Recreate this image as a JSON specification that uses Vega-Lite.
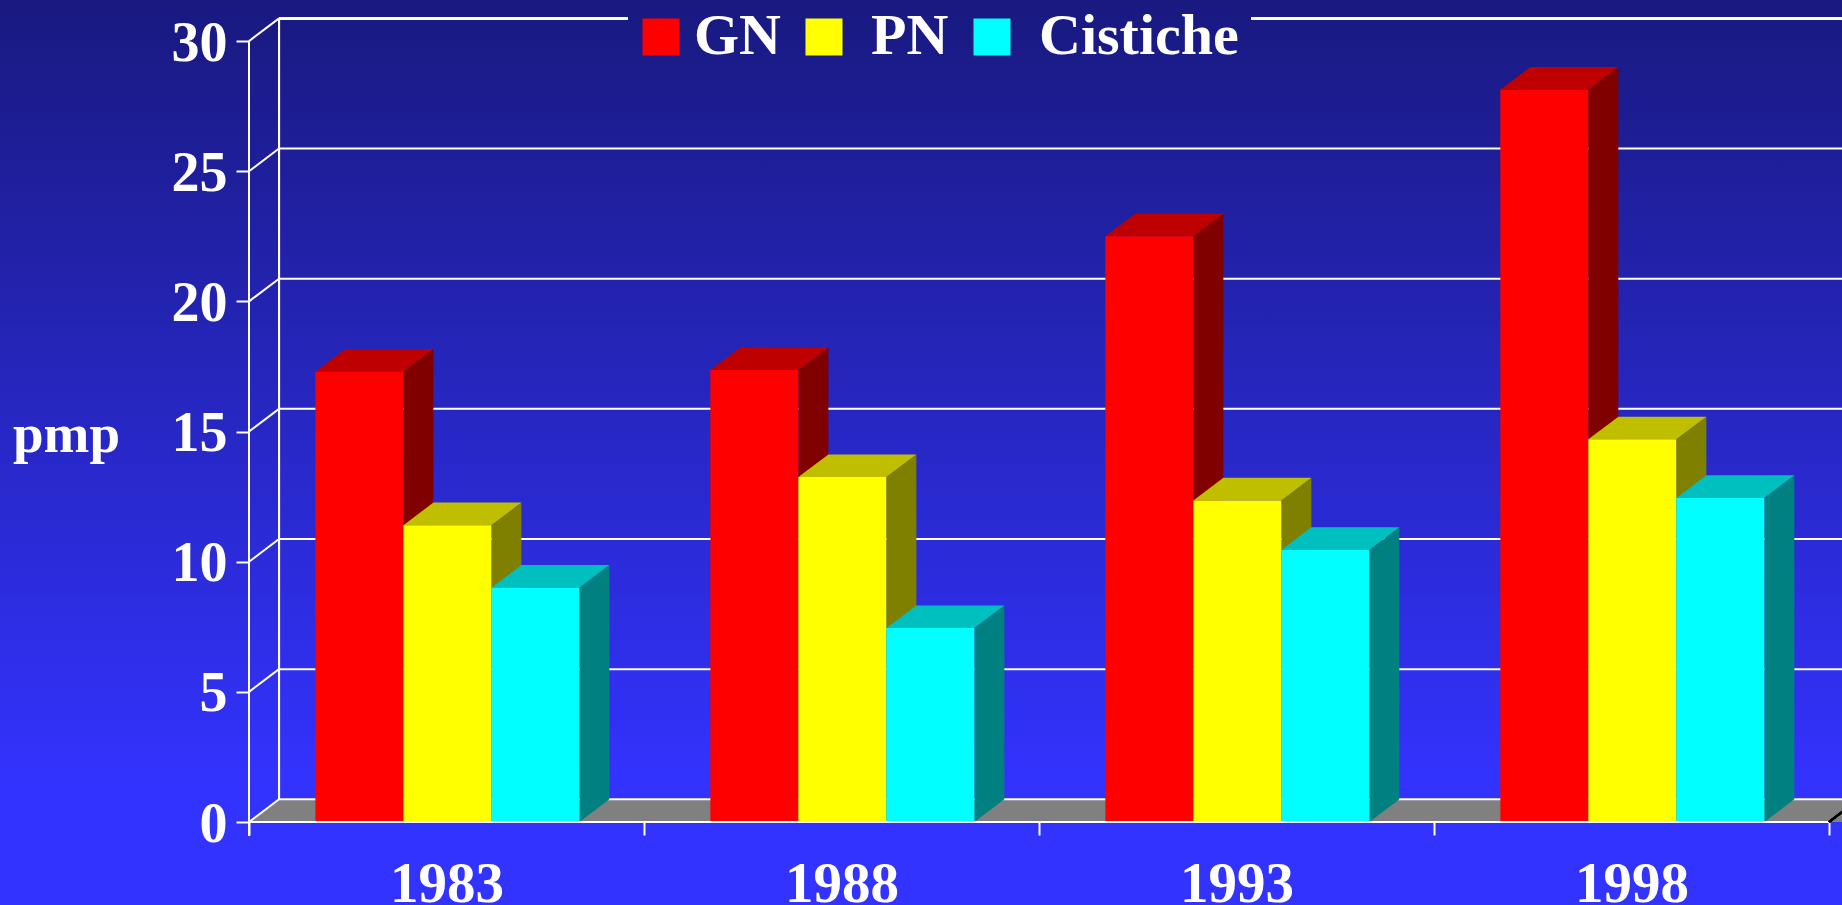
{
"$schema":"https://vega.github.io/schema/vega-lite/v6.json",
"width":1842,"height":905,"padding":0,"autosize":{"type":"none"},
"background":"#3333ff",
"config":{"view":{"stroke":null},"font":"Liberation Serif"},
"view":{"stroke":null,"fill":{"gradient":"linear","x1":0,"y1":0,"x2":0,"y2":1,"stops":[{"offset":0,"color":"#191980"},{"offset":0.87,"color":"#3333ff"},{"offset":1,"color":"#3333ff"}]}},
"datasets":{
"bars":[
{"year":1983,"series":"GN","value":17.3},{"year":1983,"series":"PN","value":11.4},{"year":1983,"series":"Cistiche","value":9.0},
{"year":1988,"series":"GN","value":17.36},{"year":1988,"series":"PN","value":13.25},{"year":1988,"series":"Cistiche","value":7.45},
{"year":1993,"series":"GN","value":22.5},{"year":1993,"series":"PN","value":12.35},{"year":1993,"series":"Cistiche","value":10.45},
{"year":1998,"series":"GN","value":28.13},{"year":1998,"series":"PN","value":14.7},{"year":1998,"series":"Cistiche","value":12.45}
],
"levels":[{"v":0},{"v":5},{"v":10},{"v":15},{"v":20},{"v":25},{"v":30}],
"floor":[{"fx":1980.5,"fy":0,"fy2":0},{"fx":1980.88,"fy":0.872,"fy2":0},{"fx":2000.665,"fy":0.872,"fy2":0}]
},
"data":{"name":"bars"},
"layer":[
{"data":{"name":"floor"},"mark":{"type":"area","color":"#808080"},
 "encoding":{
  "x":{"field":"fx","type":"quantitative","scale":{"domain":[1977.348,2000.665],"nice":false,"zero":false},
   "axis":{"orient":"bottom","offset":-83,"values":[1980.5,1983,1985.5,1988,1990.5,1993,1995.5,1998,2000.5],"title":null,"grid":false,"domain":false,"tickColor":"white","tickWidth":2,"tickSize":13,"tickOpacity":{"expr":"datum.value%1===0?0:1"},"labelExpr":"datum.value%1===0?format(datum.value,'d'):''","labelFont":"Liberation Serif","labelFontSize":57,"labelFontWeight":"bold","labelColor":"white","labelBaseline":"alphabetic","labelPadding":66,"labelOverlap":false,"labelFlush":false}},
  "y":{"field":"fy","type":"quantitative","scale":{"domain":[-3.1886,31.579],"nice":false,"zero":false},
   "axis":{"orient":"left","offset":-249,"values":[0,5,10,15,20,25,30],"grid":false,"domain":false,"tickColor":"white","tickWidth":2,"tickSize":13,"labelFont":"Liberation Serif","labelFontSize":56,"labelFontWeight":"bold","labelColor":"white","labelPadding":9,"labelOffset":2,"labelOverlap":false,"labelFlush":false,
    "title":"pmp","titleFont":"Liberation Serif","titleFontSize":55,"titleFontWeight":"bold","titleColor":"white","titleAngle":0,"titleAlign":"center","titleBaseline":"alphabetic","titleX":-183,"titleY":451}},
  "y2":{"field":"fy2"}
 }},
{"data":{"name":"levels"},"transform":[{"calculate":"datum.v+0.872","as":"back"},{"filter":"datum.v<30"}],
 "mark":{"type":"rule","color":"white","strokeWidth":2},
 "encoding":{
  "x":{"datum":1980.88,"type":"quantitative","scale":{"domain":[1977.348,2000.665],"nice":false,"zero":false},"axis":null},
  "x2":{"datum":2000.665},
  "y":{"field":"back","type":"quantitative","scale":{"domain":[-3.1886,31.579],"nice":false,"zero":false},"axis":null}
 }},
{"data":{"name":"levels"},"transform":[{"calculate":"datum.v+0.872","as":"back"}],
 "mark":{"type":"rule","color":"white","strokeWidth":2},
 "encoding":{
  "x":{"datum":1980.5,"type":"quantitative","scale":{"domain":[1977.348,2000.665],"nice":false,"zero":false},"axis":null},
  "x2":{"datum":1980.88},
  "y":{"field":"v","type":"quantitative","scale":{"domain":[-3.1886,31.579],"nice":false,"zero":false},"axis":null},
  "y2":{"field":"back"}
 }},
{"data":{"name":"levels"},"mark":{"type":"rule","color":"white","strokeWidth":2},
 "encoding":{
  "x":{"datum":1980.88,"type":"quantitative","scale":{"domain":[1977.348,2000.665],"nice":false,"zero":false},"axis":null},
  "y":{"datum":0.872,"type":"quantitative","scale":{"domain":[-3.1886,31.579],"nice":false,"zero":false},"axis":null},
  "y2":{"datum":30.872}
 }},
{"data":{"name":"levels"},"mark":{"type":"rule","color":"white","strokeWidth":2},
 "encoding":{
  "x":{"datum":1980.88,"type":"quantitative","scale":{"domain":[1977.348,2000.665],"nice":false,"zero":false},"axis":null},
  "x2":{"datum":1985.292},
  "y":{"datum":30.872,"type":"quantitative","scale":{"domain":[-3.1886,31.579],"nice":false,"zero":false},"axis":null}
 }},
{"data":{"name":"levels"},"mark":{"type":"rule","color":"white","strokeWidth":2},
 "encoding":{
  "x":{"datum":1993.184,"type":"quantitative","scale":{"domain":[1977.348,2000.665],"nice":false,"zero":false},"axis":null},
  "x2":{"datum":2000.665},
  "y":{"datum":30.872,"type":"quantitative","scale":{"domain":[-3.1886,31.579],"nice":false,"zero":false},"axis":null}
 }},
{"data":{"name":"levels"},"mark":{"type":"rule","color":"white","strokeWidth":2},
 "encoding":{
  "x":{"datum":1980.5,"type":"quantitative","scale":{"domain":[1977.348,2000.665],"nice":false,"zero":false},"axis":null},
  "y":{"datum":30,"type":"quantitative","scale":{"domain":[-3.1886,31.579],"nice":false,"zero":false},"axis":null},
  "y2":{"datum":-0.527}
 }},
{"transform":[
  {"calculate":"indexof(['GN','PN','Cistiche'],datum.series)","as":"k"},
  {"calculate":"datum.year-1.66+(datum.k+1)*1.114","as":"x1"},
  {"calculate":"[0,1]","as":"t"},{"flatten":["t"]},
  {"calculate":"datum.x1+datum.t*0.38","as":"sx"},
  {"calculate":"datum.value+datum.t*0.872","as":"sy"},
  {"calculate":"datum.t*0.872","as":"sy2"}],
 "mark":{"type":"area"},
 "encoding":{
  "x":{"field":"sx","type":"quantitative","scale":{"domain":[1977.348,2000.665],"nice":false,"zero":false},"axis":null},
  "y":{"field":"sy","type":"quantitative","scale":{"domain":[-3.1886,31.579],"nice":false,"zero":false},"axis":null},
  "y2":{"field":"sy2"},
  "detail":{"field":"year"},
  "color":{"field":"series","type":"nominal","scale":{"domain":["GN","PN","Cistiche"],"range":["#800000","#808000","#008080"]},"legend":null}
 }},
{"transform":[
  {"calculate":"indexof(['GN','PN','Cistiche'],datum.series)","as":"k"},
  {"calculate":"datum.year-1.66+datum.k*1.114","as":"x0"},
  {"calculate":"[0,1,2,3]","as":"t"},{"flatten":["t"]},
  {"calculate":"datum.x0+[0,0.38,1.114,1.494][datum.t]","as":"tx"},
  {"calculate":"datum.value+[0,0.872,0.872,0.872][datum.t]","as":"ty"},
  {"calculate":"datum.value+[0,0,0,0.872][datum.t]","as":"ty2"}],
 "mark":{"type":"area"},
 "encoding":{
  "x":{"field":"tx","type":"quantitative","scale":{"domain":[1977.348,2000.665],"nice":false,"zero":false},"axis":null},
  "y":{"field":"ty","type":"quantitative","scale":{"domain":[-3.1886,31.579],"nice":false,"zero":false},"axis":null},
  "y2":{"field":"ty2"},
  "detail":{"field":"year"},
  "color":{"field":"series","type":"nominal","scale":{"domain":["GN","PN","Cistiche"],"range":["#bf0000","#bfbf00","#00bfbf"]},"legend":null}
 }},
{"transform":[
  {"calculate":"indexof(['GN','PN','Cistiche'],datum.series)","as":"k"},
  {"calculate":"datum.year-1.66+datum.k*1.114","as":"x0"},
  {"calculate":"datum.x0+1.114","as":"x1"}],
 "mark":{"type":"bar","cornerRadius":0},
 "encoding":{
  "x":{"field":"x0","type":"quantitative","scale":{"domain":[1977.348,2000.665],"nice":false,"zero":false},"axis":null},
  "x2":{"field":"x1"},
  "y":{"field":"value","type":"quantitative","scale":{"domain":[-3.1886,31.579],"nice":false,"zero":false},"axis":null},
  "y2":{"datum":0},
  "color":{"field":"series","type":"nominal","scale":{"domain":["GN","PN","Cistiche"],"range":["#ff0000","#ffff00","#00ffff"]},
   "legend":{"orient":"none","legendX":632,"legendY":8,"direction":"horizontal","columns":3,"title":null,"padding":0,"symbolType":"square","symbolSize":1369,"symbolStrokeWidth":0,"labelFont":"Liberation Serif","labelFontSize":58,"labelFontWeight":"bold","labelColor":"white","labelOffset":4,"labelLimit":500,"columnPadding":14,"encode":{"labels":{"update":{"dx":{"signal":"datum.label==='GN'?0:14"}}}}}}
 }},
{"data":{"name":"levels"},"mark":{"type":"rule","color":"white","strokeWidth":2},
 "encoding":{
  "x":{"datum":1980.5,"type":"quantitative","scale":{"domain":[1977.348,2000.665],"nice":false,"zero":false},"axis":null},
  "x2":{"datum":2000.5},
  "y":{"datum":0,"type":"quantitative","scale":{"domain":[-3.1886,31.579],"nice":false,"zero":false},"axis":null}
 }},
{"data":{"name":"levels"},"mark":{"type":"rule","color":"black","strokeWidth":2},
 "encoding":{
  "x":{"datum":2000.5,"type":"quantitative","scale":{"domain":[1977.348,2000.665],"nice":false,"zero":false},"axis":null},
  "x2":{"datum":2000.665},
  "y":{"datum":0,"type":"quantitative","scale":{"domain":[-3.1886,31.579],"nice":false,"zero":false},"axis":null},
  "y2":{"datum":0.385}
 }}
],
"resolve":{"scale":{"color":"independent"},"axis":{"x":"independent","y":"independent"}}
}
